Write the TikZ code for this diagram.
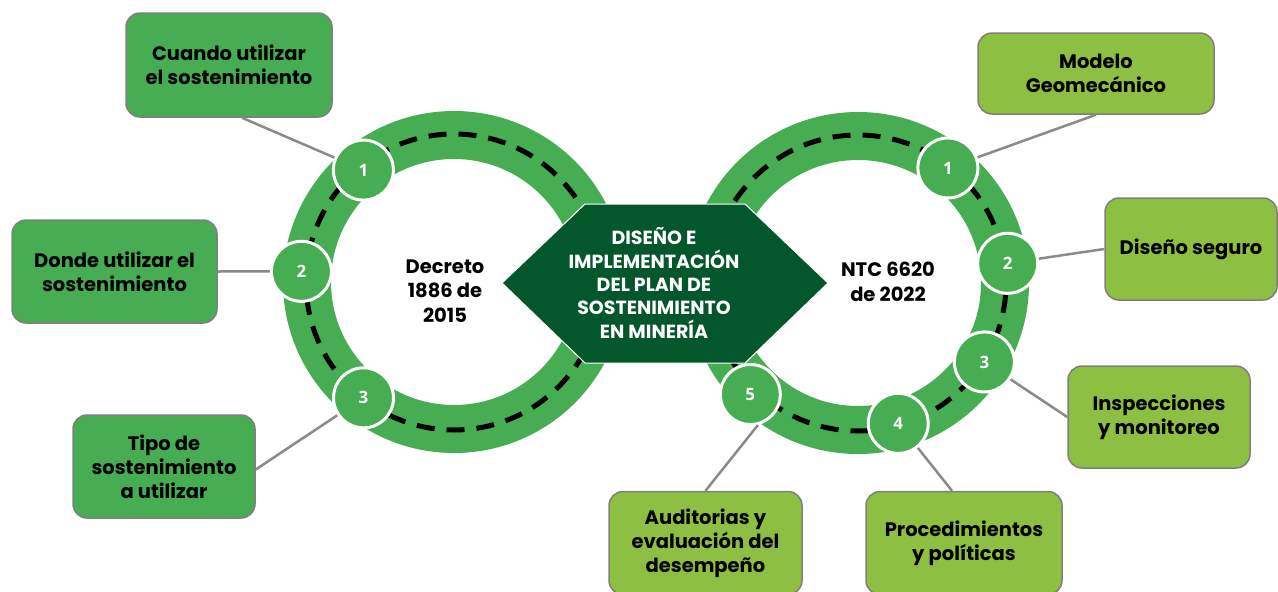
\documentclass[tikz,border=0pt]{standalone}
\usepackage{fontspec}
\newfontfamily\boxfont{Poppins}
\newfontfamily\numfont{Open Sans}
\usetikzlibrary{calc}

\definecolor{trackgreen}{HTML}{46AD52}
\definecolor{leafgreen}{HTML}{8DBF42}
\definecolor{coregreen}{HTML}{04572A}
\definecolor{edgegray}{HTML}{7F7F7F}
\definecolor{linkgray}{HTML}{8A8A8A}

\tikzset{
  topic/.style={rectangle, rounded corners=14pt, draw=edgegray, line width=1.5pt,
    align=center, inner sep=0pt, font=\boxfont\bfseries\fontsize{19.5}{24}\selectfont},
  lefttopic/.style={topic, fill=trackgreen},
  righttopic/.style={topic, fill=leafgreen},
  num/.style={circle, fill=trackgreen, draw=white, line width=3pt, minimum size=60pt,
    inner sep=0pt, text=white, font=\numfont\bfseries\fontsize{17}{17}\selectfont},
  hubtext/.style={align=center, font=\boxfont\bfseries\fontsize{19.5}{24.5}\selectfont},
  coretext/.style={align=center, text=white, font=\boxfont\bfseries\fontsize{19}{23.3}\selectfont},
  link/.style={draw=linkgray, line width=2.5pt},
  track/.style={draw=trackgreen, line width=48pt},
  lane/.style={draw=black, line width=5pt, dash pattern=on 18pt off 12pt},
}

\begin{document}
\begin{tikzpicture}[x=1pt, y=-1pt]
  \useasboundingbox (0,0) rectangle (1278,592);

  % Rings
  \coordinate (lhub) at (454,282);
  \coordinate (rhub) at (858,283);
  \draw[track] (lhub) circle [radius=147pt];
  \draw[track] (rhub) circle [radius=147pt];
  \draw[lane] (lhub) circle [radius=148pt];
  \draw[lane] (rhub) circle [radius=148pt];

  % Centre
  \coordinate (mid) at (654,283);
  \fill[coregreen, draw=white, line width=1pt]
    ($(mid)+(-152,0)$) -- ($(mid)+(-69,-79)$) -- ($(mid)+(91,-79)$)
    -- ($(mid)+(174,0)$) -- ($(mid)+(91,80)$) -- ($(mid)+(-69,80)$) -- cycle;
  \node[coretext] (plan) at (mid) {DISEÑO E\\IMPLEMENTACIÓN\\DEL PLAN DE\\SOSTENIMIENTO\\EN MINERÍA};
  \node[hubtext] (decreto) at (445,291) {Decreto\\1886 de\\2015};
  \node[hubtext] (ntc) at (888,282) {NTC 6620\\de 2022};

  % Numbers
  \foreach \ang/\rad/\n in {129/144/1, 176/153/2, -128/147/3}
    \node[num] (lc\n) at ($(lhub)+(\ang:\rad pt)$) {\n};
  \foreach \ang/\rad/\n in {52/146/1, 7.5/151/2, -32/149/3, -74/146/4, -134/155/5}
    \node[num] (rc\n) at ($(rhub)+(\ang:\rad pt)$) {\n};

  % Topics
  \node[lefttopic, minimum width=206pt, minimum height=104pt] (lt1) at (229,65) {Cuando utilizar\\el sostenimiento};
  \node[lefttopic, minimum width=205pt, minimum height=103pt] (lt2) at (114.5,271.5) {Donde utilizar el\\sostenimiento};
  \node[lefttopic, minimum width=182pt, minimum height=103pt] (lt3) at (164,466.5) {Tipo de\\sostenimiento\\a utilizar};
  \node[righttopic, minimum width=236pt, minimum height=81pt] (rt1) at (1096,73.5) {Modelo\\Geomecánico};
  \node[righttopic, minimum width=172pt, minimum height=102pt] (rt2) at (1191,249) {Diseño seguro};
  \node[righttopic, minimum width=182pt, minimum height=102pt] (rt3) at (1159,417) {Inspecciones\\y monitoreo};
  \node[righttopic, minimum width=196pt, minimum height=103pt] (rt4) at (964,543) {Procedimientos\\y políticas};
  \node[righttopic, minimum width=193pt, minimum height=103pt] (rt5) at (705.5,543) {Auditorias y\\evaluación del\\desempeño};

  % Links
  \draw[link] ([xshift=13pt]lt1.south) -- (lc1);
  \draw[link] (lt2.east) -- (lc2);
  \draw[link] ([yshift=-3pt]lt3.east) -- (lc3);
  \draw[link] (rt1.south) -- (rc1);
  \draw[link] (rt2.west) -- (rc2);
  \draw[link] (rt3.west) -- (rc3);
  \draw[link] ([xshift=-12pt]rt4.north) -- (rc4);
  \draw[link] (rt5.north) -- (rc5.-76);
\end{tikzpicture}
\end{document}
